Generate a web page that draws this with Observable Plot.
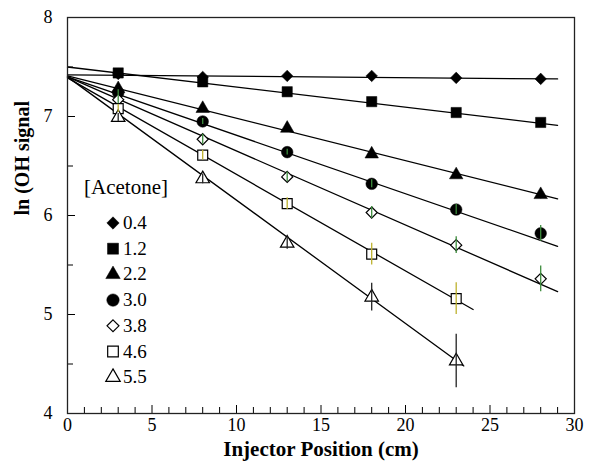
<!DOCTYPE html>
<html><head><meta charset="utf-8">
<script src="https://cdn.jsdelivr.net/npm/d3@7"></script>
<script src="https://cdn.jsdelivr.net/npm/@observablehq/plot@0.6"></script>
<style>
body{margin:0;background:#fff;}
#chart{position:relative;width:589px;height:465px;}
#chart svg, #chart svg text, #chart svg g{font-family:"Liberation Serif","DejaVu Serif",serif !important;}
</style></head><body><div id="chart"></div>
<script>
// ---- data ----
const concentrations = ["0.4", "1.2", "2.2", "3.0", "3.8", "4.6", "5.5"];
const positions = [3, 8, 13, 18, 23, 28];
const s04 = [7.43, 7.40, 7.41, 7.41, 7.39, 7.38];
const s12 = [7.44, 7.35, 7.25, 7.15, 7.04, 6.94];
const s22 = [7.28, 7.08, 6.88, 6.62, 6.41, 6.21];
const s30 = [7.24, 6.95, 6.64, 6.32, 6.06, 5.82];
const s38 = [7.17, 6.77, 6.39, 6.03, 5.70, 5.36];
const s46 = [7.08, 6.61, 6.12, 5.61, 5.16, null];
const s55 = [6.99, 6.37, 5.72, 5.175, 4.53, null];
const e04 = [0.02, 0.02, 0.02, 0.02, 0.02, 0.02];
const e12 = [0.02, 0.02, 0.02, 0.02, 0.02, 0.02];
const e22 = [0.02, 0.02, 0.02, 0.03, 0.03, 0.04];
const e30 = [0.03, 0.03, 0.03, 0.04, 0.05, 0.08];
const e38 = [0.04, 0.05, 0.05, 0.06, 0.085, 0.13];
const e46 = [0.04, 0.05, 0.06, 0.11, 0.16, null];
const e55 = [0.04, 0.05, 0.06, 0.14, 0.27, null];
// fitted lines: intercept at 0 cm, slope per cm, end of drawn line (cm)
const fitIntercept = [7.42, 7.50, 7.41, 7.40, 7.40, 7.39, 7.40];
const fitSlope = [-0.0014, -0.0203, -0.0428, -0.059, -0.0748, -0.0975, -0.1245];
const fitEnd = [29, 29, 29, 29, 29, 24, 23.45];
const xTicks = [0, 5, 10, 15, 20, 25, 30];
const yTicks = [4, 5, 6, 7, 8];

// ---- styles ----
const seriesValues = [s04, s12, s22, s30, s38, s46, s55];
const seriesErrors = [e04, e12, e22, e30, e38, e46, e55];
const symbols = ["diamond2", "square", "triangle", "circle", "diamond2", "square", "triangle"];
const filled = [true, true, true, true, false, false, false];
const radii = [5.2, 5.8, 5.0, 5.8, 5.0, 5.6, 5.0];
const errColors = ["black", "black", "black", "#3c8c3c", "#3c8c3c", "#bdb22e", "#222"];
const serif = "Liberation Serif";

const points = [], errs = [], fits = [];
concentrations.forEach((c, i) => {
  positions.forEach((x, j) => {
    const v = seriesValues[i][j];
    if (v == null) return;
    points.push({series: c, i, x, y: v});
    const e = seriesErrors[i][j];
    if (e != null) errs.push({series: c, x, y1: v - e, y2: v + e, color: errColors[i]});
  });
  fits.push({series: c, x: 0, y: fitIntercept[i]});
  fits.push({series: c, x: fitEnd[i], y: fitIntercept[i] + fitSlope[i] * fitEnd[i]});
});

const minorX = d3.range(1, 30).filter(d => d % 5 !== 0);
const minorY = [4.5, 5.5, 6.5, 7.5];
const fmt = d3.format("d");

const marks = [
  Plot.axisX({ticks: minorX, tickSize: -6, tickFormat: () => "", label: null}),
  Plot.axisX({ticks: xTicks, tickSize: -8, tickPadding: 13, tickFormat: fmt, label: null, fontSize: 18, fontFamily: serif}),
  Plot.axisY({ticks: minorY, tickSize: -6, tickFormat: () => "", label: null}),
  Plot.axisY({ticks: yTicks, tickSize: -8, tickPadding: 23, tickFormat: fmt, label: null, fontSize: 18, fontFamily: serif}),
  Plot.line(fits, {x: "x", y: "y", z: "series", stroke: "black", strokeWidth: 1.3}),
];
concentrations.forEach((c, i) => {
  marks.push(Plot.dot(points.filter(p => p.i === i), {
    x: "x", y: "y", symbol: () => symbols[i], r: radii[i],
    fill: filled[i] ? "black" : "white", stroke: "black", strokeWidth: filled[i] ? 0.5 : 1.2
  }));
});
marks.push(Plot.ruleX(errs, {x: "x", y1: "y1", y2: "y2", stroke: "color", strokeWidth: 1.3}));
marks.push(Plot.frame({stroke: "#222", strokeWidth: 1.3}));
marks.push(Plot.text(["Injector Position (cm)"], {frameAnchor: "bottom", dy: 42, text: d => d, fontWeight: "bold", fontSize: 21, fontFamily: serif}));
marks.push(Plot.text(["ln (OH signal"], {frameAnchor: "left", dx: -45, rotate: -90, text: d => d, fontWeight: "bold", fontSize: 20, fontFamily: serif}));

const plot = Plot.plot({
  width: 589, height: 465,
  marginLeft: 67, marginRight: 15, marginTop: 17, marginBottom: 52,
  x: {domain: [0, 30]},
  y: {domain: [4, 8]},
  color: {type: "identity"},
  symbol: {type: "identity"},
  style: {fontFamily: serif, fontSize: "18px", color: "black", background: "white"},
  marks
});
document.getElementById("chart").appendChild(plot);

// ---- in-plot legend ----
const svg = d3.select(plot);
const lg = svg.append("g").attr("font-family", serif).attr("text-anchor", "start");
lg.append("text").attr("x", 84).attr("y", 194).attr("font-size", 21).text("[Acetone]");
const symFns = {diamond2: d3.symbolDiamond2, square: d3.symbolSquare, triangle: d3.symbolTriangle, circle: d3.symbolCircle};
concentrations.forEach((c, i) => {
  const cy = 223 + i * 25.7;
  lg.append("path")
    .attr("d", d3.symbol(symFns[symbols[i]], Math.PI * radii[i] * radii[i] * 1.15)())
    .attr("transform", `translate(113,${cy})`)
    .attr("fill", filled[i] ? "black" : "white")
    .attr("stroke", "black").attr("stroke-width", filled[i] ? 0.5 : 1.2);
  lg.append("text").attr("x", 123).attr("y", cy + 6).attr("font-size", 19).text(c);
});
</script></body></html>
